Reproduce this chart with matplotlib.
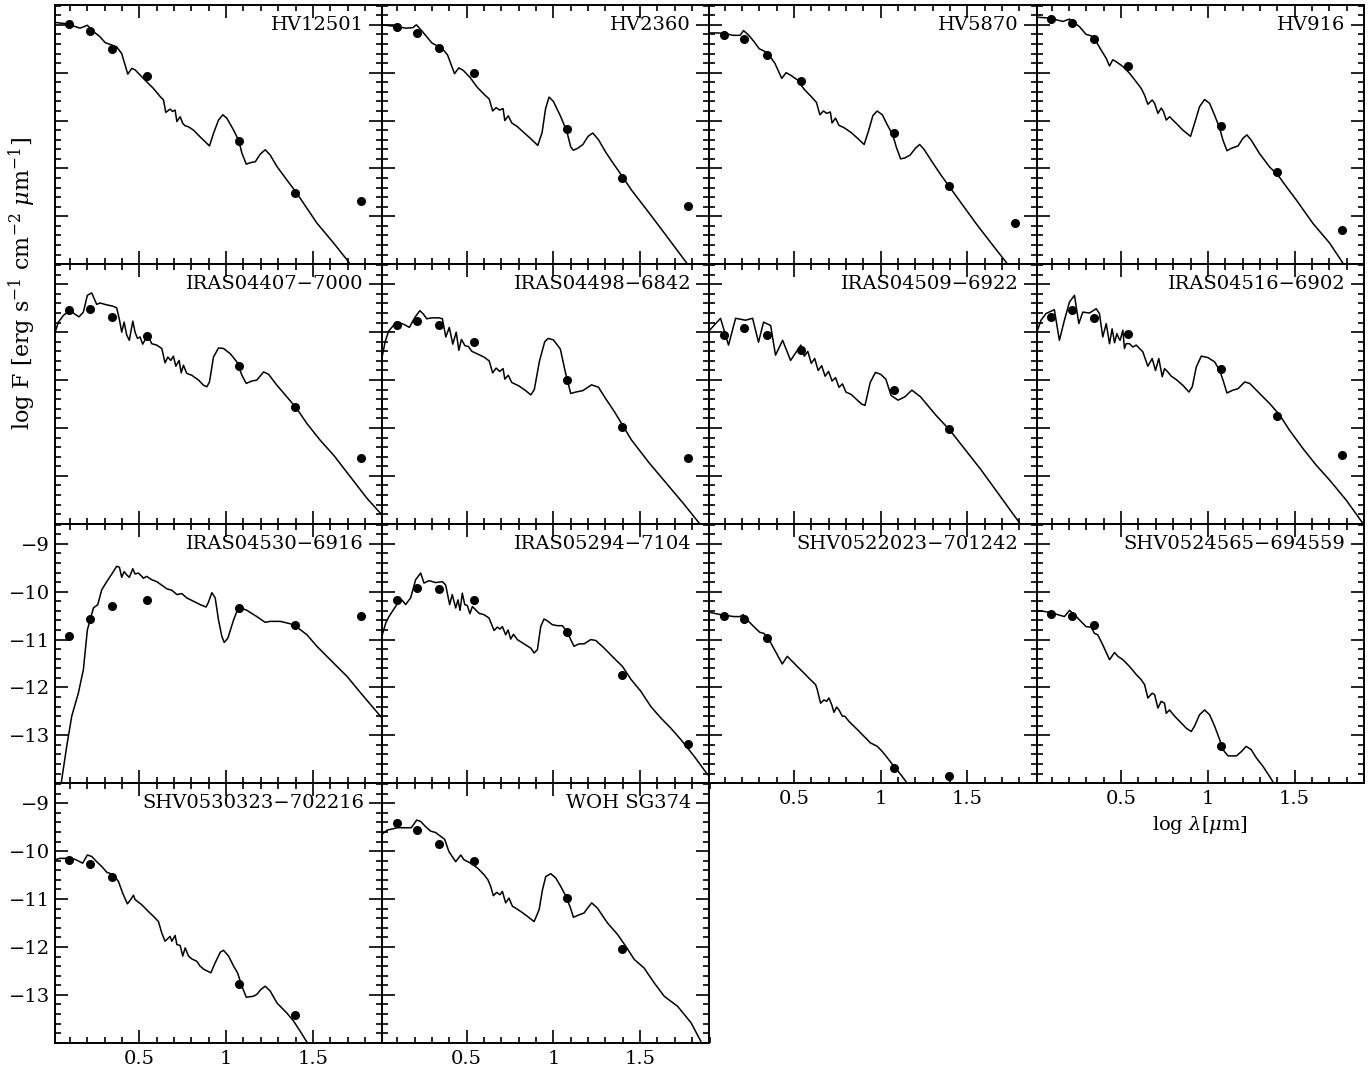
import numpy as np
import matplotlib.pyplot as plt
from matplotlib.ticker import MultipleLocator, FixedLocator

plt.rcParams['font.family'] = 'DejaVu Serif'
plt.rcParams['mathtext.fontset'] = 'dejavuserif'
plt.rcParams['axes.unicode_minus'] = True

nan = np.nan

# log wavelength (micron) of the J, H, K, L, 12, 25 and 60 micron photometry
band_logwl = [0.096, 0.215, 0.343, 0.542, 1.077, 1.397, 1.776]

# ---- model spectra (log lambda, log F) and observed photometry per star ----
hv12501_wl = [0.014, 0.081, 0.158, 0.200, 0.235, 0.273, 0.302, 0.331, 0.369, 0.398, 0.433, 0.456,
              0.475, 0.523, 0.581, 0.620, 0.639, 0.652, 0.677, 0.691, 0.706, 0.716, 0.735, 0.750,
              0.764, 0.783, 0.812, 0.850, 0.904, 0.927, 0.956, 0.981, 1.004, 1.043, 1.072, 1.091,
              1.116, 1.139, 1.168, 1.197, 1.225, 1.254, 1.293, 1.350, 1.408, 1.447, 1.523, 1.620,
              1.697, 1.754]
hv12501_flux = [-8.95, -8.98, -9.07, -9.01, -9.14, -9.25, -9.37, -9.41, -9.46, -9.60, -10.03, -9.91,
                -9.94, -10.12, -10.33, -10.50, -10.57, -10.83, -10.76, -10.81, -10.78, -11.02, -10.92, -11.06,
                -11.11, -11.13, -11.20, -11.34, -11.53, -11.27, -10.99, -10.88, -10.95, -11.20, -11.41, -11.68,
                -11.91, -11.88, -11.86, -11.70, -11.61, -11.72, -11.96, -12.24, -12.52, -12.73, -13.14, -13.56,
                -13.91, -14.19]
hv12501_phot = [-8.99, -9.13, -9.505, -10.06, -11.42, -12.51, -12.68]

hv2360_wl = [0.014, 0.060, 0.100, 0.150, 0.190, 0.210, 0.240, 0.270, 0.300, 0.330, 0.360, 0.390,
             0.430, 0.455, 0.480, 0.520, 0.560, 0.600, 0.630, 0.650, 0.670, 0.690, 0.710, 0.720,
             0.740, 0.760, 0.790, 0.830, 0.870, 0.910, 0.935, 0.955, 0.975, 1.000, 1.040, 1.077,
             1.100, 1.115, 1.140, 1.170, 1.200, 1.227, 1.260, 1.300, 1.350, 1.400, 1.450, 1.550,
             1.650, 1.790]
hv2360_flux = [-9.00, -9.02, -9.04, -9.07, -9.06, -9.00, -9.12, -9.25, -9.38, -9.44, -9.50, -9.63,
               -10.02, -9.90, -9.95, -10.10, -10.30, -10.45, -10.55, -10.80, -10.73, -10.78, -10.75, -11.00,
               -10.90, -11.05, -11.12, -11.25, -11.38, -11.52, -11.25, -10.75, -10.51, -10.60, -10.90, -11.22,
               -11.55, -11.62, -11.58, -11.50, -11.33, -11.26, -11.40, -11.65, -11.92, -12.18, -12.45, -12.92,
               -13.40, -14.08]
hv2360_phot = [-9.05, -9.17, -9.48, -10.01, -11.18, -12.20, -12.78]

hv5870_wl = [0.014, 0.060, 0.100, 0.150, 0.190, 0.210, 0.240, 0.270, 0.300, 0.330, 0.360, 0.390,
             0.430, 0.455, 0.480, 0.520, 0.560, 0.600, 0.630, 0.650, 0.670, 0.690, 0.710, 0.720,
             0.740, 0.760, 0.790, 0.830, 0.870, 0.905, 0.930, 0.955, 0.980, 1.010, 1.040, 1.070,
             1.090, 1.115, 1.140, 1.170, 1.200, 1.225, 1.250, 1.300, 1.350, 1.400, 1.450, 1.550,
             1.650, 1.780]
hv5870_flux = [-9.17, -9.17, -9.18, -9.22, -9.22, -9.12, -9.22, -9.35, -9.50, -9.55, -9.65, -9.80,
               -10.12, -10.00, -10.05, -10.15, -10.35, -10.50, -10.62, -10.88, -10.80, -10.85, -10.82, -11.05,
               -10.95, -11.10, -11.15, -11.25, -11.38, -11.50, -11.22, -10.90, -10.80, -10.88, -11.10, -11.30,
               -11.55, -11.80, -11.78, -11.72, -11.58, -11.50, -11.60, -11.88, -12.15, -12.40, -12.65, -13.15,
               -13.62, -14.22]
hv5870_phot = [-9.21, -9.30, -9.63, -10.17, -11.26, -12.37, -13.14]

hv916_wl = [0.014, 0.087, 0.164, 0.202, 0.231, 0.260, 0.298, 0.327, 0.356, 0.385, 0.414, 0.433,
            0.452, 0.471, 0.510, 0.548, 0.587, 0.616, 0.635, 0.654, 0.679, 0.693, 0.712, 0.731,
            0.744, 0.760, 0.779, 0.818, 0.856, 0.900, 0.923, 0.952, 0.981, 1.010, 1.039, 1.068,
            1.087, 1.110, 1.135, 1.174, 1.202, 1.225, 1.250, 1.298, 1.356, 1.404, 1.452, 1.510,
            1.606, 1.702, 1.779, 1.818]
hv916_flux = [-8.84, -8.86, -8.93, -8.88, -8.96, -9.04, -9.20, -9.23, -9.35, -9.53, -9.70, -9.86,
              -9.73, -9.77, -9.87, -10.01, -10.19, -10.33, -10.47, -10.66, -10.57, -10.64, -10.85, -10.74,
              -10.81, -10.99, -10.92, -11.06, -11.20, -11.33, -11.06, -10.71, -10.56, -10.64, -10.89, -11.16,
              -11.41, -11.63, -11.58, -11.53, -11.37, -11.30, -11.41, -11.69, -11.97, -12.14, -12.38, -12.66,
              -13.15, -13.56, -13.98, -14.16]
hv916_phot = [-8.885, -8.97, -9.30, -9.86, -11.11, -12.08, -13.28]

iras04407_wl = [0.014, 0.033, 0.062, 0.100, 0.123, 0.152, 0.177, 0.200, 0.225, 0.254, 0.273, 0.302,
                0.350, 0.369, 0.385, 0.398, 0.412, 0.427, 0.442, 0.462, 0.475, 0.489, 0.504, 0.519,
                0.533, 0.552, 0.571, 0.600, 0.629, 0.648, 0.664, 0.681, 0.696, 0.710, 0.729, 0.741,
                0.754, 0.773, 0.802, 0.841, 0.870, 0.889, 0.904, 0.927, 0.956, 0.985, 1.024, 1.062,
                1.091, 1.116, 1.148, 1.177, 1.216, 1.245, 1.293, 1.350, 1.408, 1.466, 1.543, 1.620,
                1.716, 1.812, 1.899]
iras04407_flux = [-10.00, -9.79, -9.65, -9.54, -9.61, -9.68, -9.58, -9.23, -9.18, -9.42, -9.39, -9.42,
                  -9.46, -9.49, -9.74, -10.00, -9.79, -10.06, -10.17, -9.77, -10.00, -10.13, -10.10, -10.25,
                  -10.16, -10.09, -10.24, -10.27, -10.34, -10.64, -10.52, -10.59, -10.50, -10.71, -10.59, -10.85,
                  -10.69, -10.86, -10.90, -11.00, -11.11, -11.14, -11.04, -10.52, -10.33, -10.34, -10.45, -10.62,
                  -10.90, -11.07, -11.02, -11.00, -10.83, -10.88, -11.11, -11.35, -11.60, -11.91, -12.26, -12.57,
                  -13.02, -13.47, -13.82]
iras04407_phot = [-9.54, -9.51, -9.68, -10.07, -10.70, -11.57, -12.62]

iras04498_wl = [0.015, 0.030, 0.050, 0.080, 0.110, 0.140, 0.170, 0.200, 0.230, 0.250, 0.270, 0.300,
                0.340, 0.360, 0.380, 0.400, 0.420, 0.440, 0.455, 0.470, 0.490, 0.510, 0.530, 0.560,
                0.600, 0.630, 0.650, 0.670, 0.690, 0.710, 0.720, 0.740, 0.760, 0.800, 0.840, 0.870,
                0.890, 0.920, 0.950, 0.970, 1.000, 1.040, 1.070, 1.100, 1.130, 1.170, 1.220, 1.260,
                1.300, 1.350, 1.400, 1.450, 1.550, 1.650, 1.750, 1.850]
iras04498_flux = [-10.48, -10.20, -9.98, -9.85, -9.80, -9.84, -9.90, -9.70, -9.55, -9.62, -9.72, -9.70,
                  -9.70, -9.72, -10.10, -9.90, -10.25, -10.00, -10.38, -10.15, -10.28, -10.30, -10.40, -10.45,
                  -10.52, -10.60, -10.85, -10.75, -10.82, -10.76, -10.98, -10.90, -11.05, -11.12, -11.22, -11.31,
                  -11.20, -10.60, -10.20, -10.13, -10.16, -10.35, -10.85, -11.28, -11.25, -11.22, -11.10, -11.15,
                  -11.38, -11.65, -11.95, -12.25, -12.72, -13.15, -13.58, -14.03]
iras04498_phot = [-9.86, -9.77, -9.86, -10.21, -11.00, -11.99, -12.63]

iras04509_wl = [0.014, 0.077, 0.123, 0.164, 0.221, 0.262, 0.296, 0.325, 0.366, 0.394, 0.435, 0.481,
                0.540, 0.560, 0.580, 0.600, 0.620, 0.640, 0.660, 0.680, 0.700, 0.720, 0.740, 0.760,
                0.780, 0.800, 0.830, 0.860, 0.890, 0.910, 0.940, 0.970, 1.000, 1.030, 1.060, 1.100,
                1.140, 1.180, 1.230, 1.320, 1.400, 1.580, 1.810]
iras04509_flux = [-9.96, -9.71, -10.27, -9.71, -9.75, -9.71, -10.21, -9.79, -9.86, -10.48, -10.17, -10.59,
                  -10.27, -10.50, -10.40, -10.65, -10.55, -10.80, -10.70, -10.92, -10.82, -11.02, -10.95, -11.15,
                  -11.08, -11.25, -11.30, -11.40, -11.50, -11.53, -11.05, -10.84, -10.88, -10.98, -11.32, -11.42,
                  -11.35, -11.21, -11.35, -11.74, -12.05, -12.88, -14.03]
iras04509_phot = [-10.06, -9.92, -10.06, -10.38, -11.21, -12.03, nan]

iras04516_wl = [0.014, 0.038, 0.067, 0.115, 0.144, 0.173, 0.202, 0.231, 0.256, 0.279, 0.317, 0.356,
                0.375, 0.394, 0.414, 0.433, 0.448, 0.462, 0.475, 0.487, 0.494, 0.510, 0.519, 0.529,
                0.548, 0.567, 0.587, 0.625, 0.654, 0.679, 0.698, 0.717, 0.737, 0.750, 0.769, 0.789,
                0.818, 0.856, 0.891, 0.910, 0.933, 0.962, 1.000, 1.039, 1.068, 1.087, 1.110, 1.145,
                1.174, 1.212, 1.241, 1.298, 1.356, 1.414, 1.471, 1.548, 1.625, 1.702, 1.798, 1.895]
iras04516_flux = [-10.00, -9.75, -9.61, -9.53, -10.17, -9.75, -9.37, -9.23, -9.82, -9.58, -9.60, -9.51,
                  -9.61, -10.10, -9.82, -10.24, -9.93, -10.22, -10.03, -10.13, -10.17, -9.96, -10.34, -10.24,
                  -10.24, -10.31, -10.27, -10.41, -10.71, -10.55, -10.80, -10.55, -10.93, -10.76, -10.83, -10.92,
                  -10.99, -11.11, -11.25, -11.14, -10.73, -10.50, -10.53, -10.62, -10.80, -11.00, -11.27, -11.21,
                  -11.18, -11.04, -11.07, -11.28, -11.49, -11.73, -12.05, -12.43, -12.78, -13.09, -13.51, -14.00]
iras04516_phot = [-9.68, -9.53, -9.71, -10.04, -10.76, -11.76, -12.56]

iras04530_wl = [0.048, 0.081, 0.110, 0.148, 0.177, 0.200, 0.216, 0.235, 0.260, 0.283, 0.312, 0.350,
                0.369, 0.385, 0.398, 0.412, 0.427, 0.442, 0.462, 0.475, 0.494, 0.514, 0.523, 0.542,
                0.571, 0.600, 0.639, 0.658, 0.687, 0.716, 0.745, 0.773, 0.812, 0.850, 0.885, 0.898,
                0.918, 0.937, 0.956, 0.975, 0.989, 1.010, 1.043, 1.072, 1.120, 1.177, 1.225, 1.254,
                1.312, 1.370, 1.408, 1.466, 1.523, 1.600, 1.697, 1.793, 1.899]
iras04530_flux = [-14.03, -13.23, -12.60, -12.12, -11.63, -10.80, -10.59, -10.34, -10.27, -9.96, -9.79, -9.58,
                  -9.47, -9.49, -9.70, -9.58, -9.65, -9.70, -9.52, -9.63, -9.61, -9.68, -9.72, -9.68,
                  -9.75, -9.79, -9.89, -9.94, -9.97, -10.06, -10.04, -10.13, -10.20, -10.27, -10.32, -10.22,
                  -10.02, -10.13, -10.59, -10.93, -11.06, -10.97, -10.59, -10.32, -10.39, -10.52, -10.64, -10.62,
                  -10.62, -10.67, -10.74, -10.90, -11.14, -11.42, -11.77, -12.19, -12.64]
iras04530_phot = [-10.93, -10.57, -10.29, -10.18, -10.35, -10.70, -10.50]

iras05294_wl = [0.014, 0.033, 0.052, 0.081, 0.110, 0.129, 0.148, 0.177, 0.206, 0.235, 0.254, 0.283,
                0.321, 0.360, 0.379, 0.402, 0.417, 0.437, 0.450, 0.462, 0.475, 0.489, 0.504, 0.519,
                0.533, 0.552, 0.571, 0.600, 0.629, 0.658, 0.677, 0.692, 0.706, 0.725, 0.739, 0.754,
                0.770, 0.792, 0.831, 0.870, 0.889, 0.908, 0.927, 0.946, 0.966, 0.994, 1.023, 1.052,
                1.081, 1.100, 1.119, 1.148, 1.177, 1.216, 1.245, 1.293, 1.350, 1.398, 1.447, 1.504,
                1.562, 1.620, 1.677, 1.735, 1.812, 1.889]
iras05294_flux = [-10.90, -10.66, -10.52, -10.36, -10.20, -10.18, -10.27, -10.13, -9.75, -9.61, -9.82, -9.77,
                  -9.81, -9.79, -9.86, -10.27, -10.06, -10.34, -10.17, -10.39, -10.03, -10.27, -10.29, -10.46,
                  -10.31, -10.38, -10.45, -10.48, -10.55, -10.81, -10.74, -10.78, -10.73, -10.90, -10.80, -10.99,
                  -10.89, -11.00, -11.09, -11.18, -11.28, -11.21, -10.73, -10.57, -10.61, -10.69, -10.71, -10.71,
                  -10.85, -11.00, -11.14, -11.09, -11.09, -11.00, -11.02, -11.18, -11.39, -11.56, -11.83, -12.08,
                  -12.40, -12.64, -12.85, -13.09, -13.44, -13.82]
iras05294_phot = [-10.18, -9.93, -9.95, -10.18, -10.85, -11.73, -13.19]

shv0522023_wl = [0.014, 0.077, 0.154, 0.189, 0.208, 0.231, 0.269, 0.304, 0.327, 0.356, 0.394, 0.433,
                 0.462, 0.481, 0.519, 0.558, 0.596, 0.625, 0.635, 0.654, 0.673, 0.689, 0.702, 0.718,
                 0.731, 0.746, 0.760, 0.779, 0.793, 0.818, 0.866, 0.904, 0.942, 0.981, 1.010, 1.039,
                 1.077, 1.116, 1.145, 1.164]
shv0522023_flux = [-10.43, -10.48, -10.52, -10.52, -10.48, -10.59, -10.73, -10.85, -10.87, -11.00, -11.25, -11.51,
                   -11.35, -11.42, -11.56, -11.70, -11.84, -11.94, -12.05, -12.33, -12.26, -12.29, -12.22, -12.36,
                   -12.52, -12.41, -12.47, -12.60, -12.60, -12.71, -12.88, -13.02, -13.16, -13.23, -13.34, -13.47,
                   -13.65, -13.82, -13.96, -14.07]
shv0522023_phot = [-10.50, -10.57, -10.96, nan, -13.68, -13.84, nan]

shv0524565_wl = [0.014, 0.087, 0.173, 0.202, 0.231, 0.260, 0.298, 0.327, 0.346, 0.365, 0.394, 0.433,
                 0.462, 0.481, 0.510, 0.548, 0.587, 0.616, 0.635, 0.654, 0.679, 0.693, 0.712, 0.731,
                 0.750, 0.760, 0.779, 0.808, 0.846, 0.875, 0.904, 0.923, 0.952, 0.981, 1.010, 1.039,
                 1.068, 1.087, 1.116, 1.164, 1.193, 1.221, 1.250, 1.279, 1.318, 1.356, 1.391]
shv0524565_flux = [-10.39, -10.43, -10.52, -10.39, -10.48, -10.59, -10.73, -10.74, -10.87, -10.90, -11.11, -11.42,
                   -11.27, -11.35, -11.42, -11.56, -11.73, -11.84, -11.94, -12.22, -12.12, -12.15, -12.43, -12.29,
                   -12.33, -12.54, -12.47, -12.60, -12.74, -12.85, -12.92, -12.81, -12.57, -12.47, -12.57, -12.81,
                   -13.09, -13.30, -13.43, -13.43, -13.34, -13.23, -13.30, -13.47, -13.65, -13.86, -14.07]
shv0524565_phot = [-10.46, -10.50, -10.70, nan, -13.22, nan, nan]

shv0530323_wl = [0.014, 0.042, 0.081, 0.129, 0.173, 0.200, 0.225, 0.254, 0.283, 0.312, 0.350, 0.379,
                 0.404, 0.431, 0.450, 0.466, 0.475, 0.514, 0.552, 0.581, 0.610, 0.629, 0.648, 0.677,
                 0.687, 0.706, 0.716, 0.735, 0.750, 0.764, 0.783, 0.802, 0.831, 0.850, 0.873, 0.912,
                 0.937, 0.966, 0.985, 1.014, 1.043, 1.066, 1.091, 1.116, 1.158, 1.177, 1.200, 1.225,
                 1.254, 1.293, 1.350, 1.389, 1.427, 1.466]
shv0530323_flux = [-10.18, -10.15, -10.15, -10.17, -10.25, -10.08, -10.11, -10.22, -10.32, -10.44, -10.49, -10.63,
                   -10.88, -11.10, -11.01, -10.92, -11.01, -11.12, -11.26, -11.36, -11.47, -11.71, -11.88, -11.78,
                   -11.88, -11.76, -11.95, -11.97, -12.19, -12.02, -12.19, -12.25, -12.30, -12.40, -12.47, -12.54,
                   -12.33, -12.11, -12.07, -12.19, -12.40, -12.54, -12.82, -13.05, -13.03, -12.99, -12.89, -12.82,
                   -12.92, -13.17, -13.38, -13.55, -13.76, -13.99]
shv0530323_phot = [-10.18, -10.26, -10.53, nan, -12.77, -13.42, nan]

wohsg374_wl = [0.014, 0.042, 0.100, 0.181, 0.212, 0.235, 0.264, 0.292, 0.321, 0.350, 0.373, 0.398,
               0.437, 0.466, 0.485, 0.523, 0.562, 0.600, 0.623, 0.639, 0.654, 0.673, 0.692, 0.706,
               0.725, 0.744, 0.764, 0.783, 0.812, 0.850, 0.889, 0.918, 0.937, 0.956, 0.985, 1.014,
               1.043, 1.072, 1.095, 1.116, 1.148, 1.177, 1.197, 1.221, 1.254, 1.312, 1.370, 1.418,
               1.466, 1.523, 1.581, 1.639, 1.716, 1.793, 1.850]
wohsg374_flux = [-9.64, -9.56, -9.51, -9.51, -9.35, -9.38, -9.49, -9.58, -9.61, -9.69, -9.75, -10.01,
                 -10.22, -10.08, -10.18, -10.25, -10.35, -10.49, -10.60, -10.74, -10.93, -10.86, -10.91, -10.84,
                 -11.08, -10.98, -11.15, -11.19, -11.26, -11.36, -11.47, -11.22, -10.81, -10.53, -10.47, -10.56,
                 -10.74, -10.94, -11.15, -11.38, -11.33, -11.29, -11.19, -11.08, -11.19, -11.50, -11.74, -11.99,
                 -12.26, -12.44, -12.75, -13.03, -13.24, -13.58, -13.97]
wohsg374_phot = [-9.42, -9.56, -9.85, -10.20, -10.98, -12.04, nan]

panels = [
    ("HV12501", hv12501_wl, hv12501_flux, hv12501_phot),
    ("HV2360", hv2360_wl, hv2360_flux, hv2360_phot),
    ("HV5870", hv5870_wl, hv5870_flux, hv5870_phot),
    ("HV916", hv916_wl, hv916_flux, hv916_phot),
    ("IRAS04407\u22127000", iras04407_wl, iras04407_flux, iras04407_phot),
    ("IRAS04498\u22126842", iras04498_wl, iras04498_flux, iras04498_phot),
    ("IRAS04509\u22126922", iras04509_wl, iras04509_flux, iras04509_phot),
    ("IRAS04516\u22126902", iras04516_wl, iras04516_flux, iras04516_phot),
    ("IRAS04530\u22126916", iras04530_wl, iras04530_flux, iras04530_phot),
    ("IRAS05294\u22127104", iras05294_wl, iras05294_flux, iras05294_phot),
    ("SHV0522023\u2212701242", shv0522023_wl, shv0522023_flux, shv0522023_phot),
    ("SHV0524565\u2212694559", shv0524565_wl, shv0524565_flux, shv0524565_phot),
    ("SHV0530323\u2212702216", shv0530323_wl, shv0530323_flux, shv0530323_phot),
    ("WOH SG374", wohsg374_wl, wohsg374_flux, wohsg374_phot),
]

W, H = 1371, 1067
fig = plt.figure(figsize=(W / 100, H / 100), dpi=100)
gs = fig.add_gridspec(4, 4, left=55 / W, right=1364 / W, top=1 - 4.7 / H, bottom=1 - 1042.7 / H,
                      hspace=0, wspace=0)

for i, (name, wl, flux, phot) in enumerate(panels):
    row, col = divmod(i, 4)
    ax = fig.add_subplot(gs[row, col])
    ax.plot(wl, flux, color='k', lw=1.1)
    ax.plot(band_logwl, phot, 'o', color='k', ms=5.5, ls='none')
    ax.set_xlim(0.0135, 1.9)
    ax.set_ylim(-14.0, -8.58)

    ax.xaxis.set_major_locator(FixedLocator([0.5, 1.0, 1.5]))
    ax.xaxis.set_minor_locator(MultipleLocator(0.1))
    ax.yaxis.set_major_locator(FixedLocator([-13, -12, -11, -10, -9]))
    ax.yaxis.set_minor_locator(MultipleLocator(0.2))
    ax.xaxis.set_major_formatter(plt.FuncFormatter(lambda v, p: f"{v:g}"))
    ax.tick_params(which='both', direction='in', top=True, right=True, width=1.2, labelsize=14)
    ax.tick_params(which='major', length=9.5)
    ax.tick_params(which='minor', length=4.5)
    ax.tick_params(axis='x', pad=5)
    ax.tick_params(axis='y', pad=3.5)
    for s in ax.spines.values():
        s.set_linewidth(1.4)

    show_x = row == 3 or (row == 2 and col >= 2)
    show_y = col == 0 and row >= 2
    ax.tick_params(labelbottom=show_x, labelleft=show_y)

    ax.text(0.944, 0.923, name, transform=ax.transAxes, ha='right', va='center', fontsize=14)

    if row == 2 and col == 3:
        ax.set_xlabel(r'log $\lambda$[$\mu$m]', fontsize=14, labelpad=4)

fig.text(22 / W, 1 - 283 / H, r'log F [erg s$^{-1}$ cm$^{-2}$ $\mu$m$^{-1}$]',
         rotation=90, ha='center', va='center', fontsize=16)

fig.savefig('out.png', dpi=100)
